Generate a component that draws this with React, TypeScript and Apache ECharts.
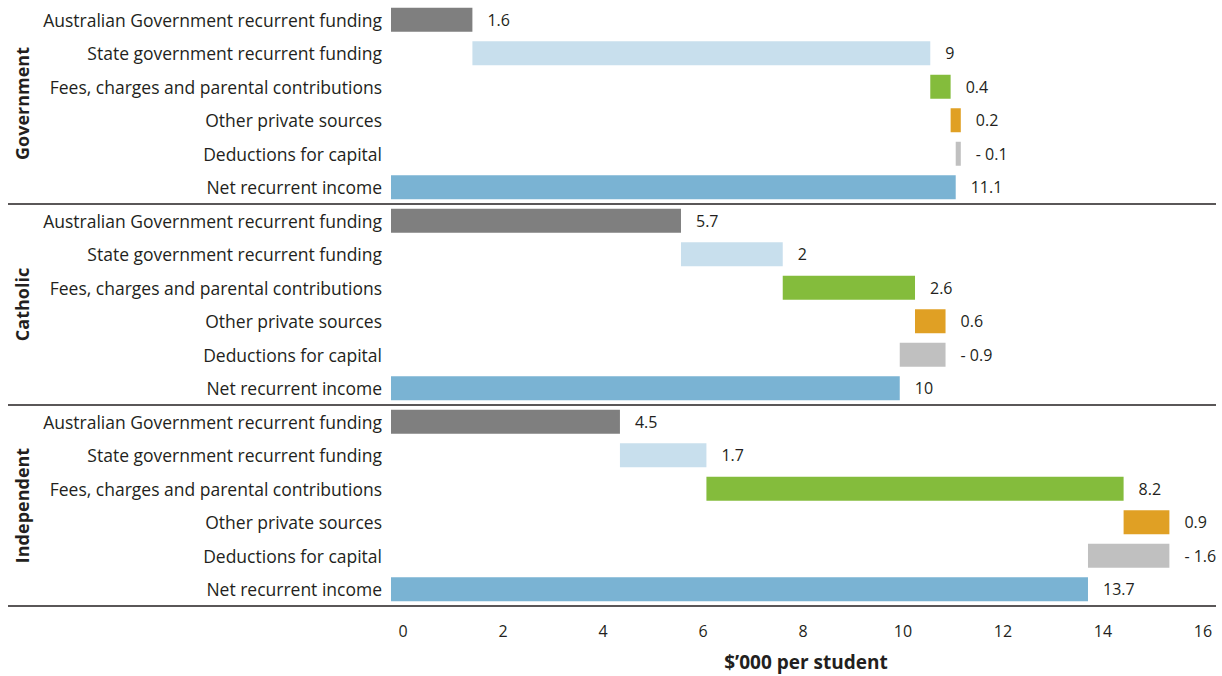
import React, { useEffect, useRef } from "react";
import * as echarts from "echarts";

const groups = ["Government", "Catholic", "Independent"];
const rowLabels = [
  "Australian Government recurrent funding",
  "State government recurrent funding",
  "Fees, charges and parental contributions",
  "Other private sources",
  "Deductions for capital",
  "Net recurrent income",
];
const governmentValues = [1.6, 9, 0.4, 0.2, -0.1, 11.1];
const catholicValues = [5.7, 2, 2.6, 0.6, -0.9, 10];
const independentValues = [4.5, 1.7, 8.2, 0.9, -1.6, 13.7];
const xTicks = [0, 2, 4, 6, 8, 10, 12, 14, 16];
const rowColors = ["#7f7f7f", "#c8dfed", "#84bc3c", "#e0a024", "#c0c0c0", "#7ab3d3"];

const FONT = "Open Sans";
const TEXT = "#231f20";

export default function App() {
  const ref = useRef<HTMLDivElement>(null);
  useEffect(() => {
    document.body.style.margin = "0";
    if (!ref.current) return;
    const chart = echarts.init(ref.current, null, { renderer: "svg" });

    const groupValues = [governmentValues, catholicValues, independentValues];
    const categories: string[] = [];
    const baseData: number[] = [];
    const barData: any[] = [];
    const display: number[] = [];
    groupValues.forEach((vals, gi) => {
      let running = 0;
      vals.forEach((v, i) => {
        categories.push(groups[gi] + "|" + rowLabels[i]);
        display.push(v);
        let base = 0;
        let len = v;
        if (i < 4) {
          base = running;
          len = v;
          running += v;
        } else if (i === 4) {
          running += v;
          base = running;
          len = -v;
        } else {
          base = 0;
          len = v;
        }
        baseData.push(+base.toFixed(3));
        barData.push({ value: +len.toFixed(3), itemStyle: { color: rowColors[i] } });
      });
    });

    chart.setOption({
      animation: false,
      grid: { left: 391, right: 17, top: 3, bottom: 69, containLabel: false },
      xAxis: [
        {
          type: "value",
          min: 0,
          max: 16,
          interval: 2,
          axisLabel: { show: false },
          axisLine: { show: false },
          axisTick: { show: false },
          splitLine: { show: false },
        },
        {
          type: "value",
          position: "bottom",
          min: -0.24,
          max: 16.04,
          axisLabel: {
            customValues: xTicks,
            fontFamily: FONT,
            fontSize: 16,
            color: TEXT,
            margin: 17,
          },
          axisLine: { show: false },
          axisTick: { show: false },
          splitLine: { show: false },
          name: "$\u2019000 per student",
          nameLocation: "middle",
          nameGap: 46,
          nameTextStyle: {
            fontFamily: FONT,
            fontSize: 19,
            fontWeight: "bold",
            color: TEXT,
            padding: [0, 0, 0, 16],
          },
        },
      ],
      yAxis: {
        type: "category",
        inverse: true,
        data: categories,
        axisLine: { show: false },
        axisTick: { show: false },
        splitLine: { show: false },
        axisLabel: {
          formatter: (v: string) => v.split("|")[1],
          fontFamily: FONT,
          fontSize: 17.5,
          color: TEXT,
          margin: 9,
        },
      },
      series: [
        {
          type: "bar",
          stack: "w",
          silent: true,
          itemStyle: { color: "transparent" },
          data: baseData,
          barWidth: 24,
        },
        {
          type: "bar",
          stack: "w",
          barWidth: 24,
          data: barData,
          label: {
            show: true,
            position: "right",
            distance: 15,
            fontFamily: FONT,
            fontSize: 16,
            color: TEXT,
            formatter: (p: any) => {
              const v = display[p.dataIndex];
              return v < 0 ? "- " + Math.abs(v) : String(v);
            },
          },
        },
      ],
    });

    const yAt = (i: number) => chart.convertToPixel({ yAxisIndex: 0 }, i) as number;
    const graphics: any[] = [];
    groups.forEach((g, gi) => {
      const first = gi * rowLabels.length;
      const last = first + rowLabels.length - 1;
      const step = yAt(1) - yAt(0);
      const bottom = yAt(last) + step / 2;
      const center = (yAt(first) + yAt(last)) / 2;
      graphics.push({
        type: "line",
        shape: { x1: 8, y1: bottom, x2: 1216, y2: bottom },
        style: { stroke: "#231f20", lineWidth: 1.5 },
      });
      graphics.push({
        type: "text",
        x: 22,
        y: center,
        rotation: Math.PI / 2,
        style: {
          text: g,
          fontFamily: FONT,
          fontSize: 18,
          fontWeight: "bold",
          fill: TEXT,
          align: "center",
          verticalAlign: "middle",
        },
      });
    });
    chart.setOption({ graphic: graphics });

    return () => chart.dispose();
  }, []);
  return <div ref={ref} style={{ width: 1222, height: 676 }} />;
}
